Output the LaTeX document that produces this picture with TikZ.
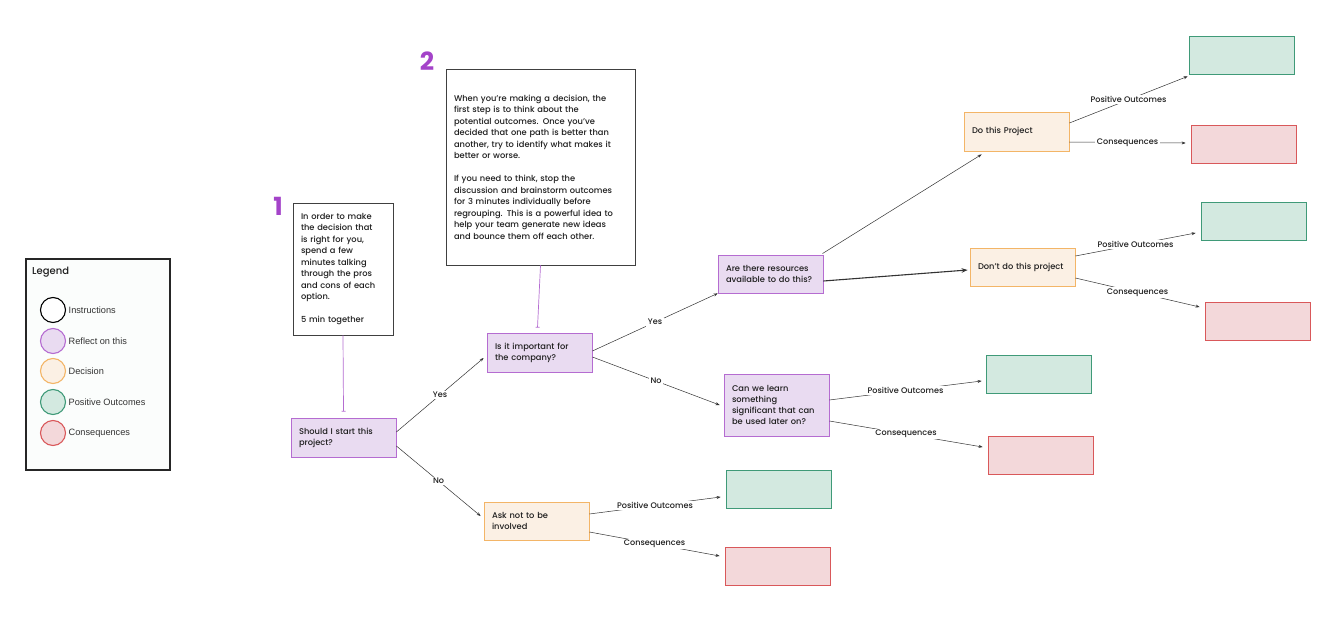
\documentclass[tikz,border=0pt]{standalone}
\usepackage{fontspec}
\setmainfont{Poppins}[BoldFont={Poppins Medium}]
\newfontfamily\legfont{Liberation Sans}
\newfontfamily\numfont{Poppins}
\usetikzlibrary{arrows.meta,calc}
\definecolor{purpB}{HTML}{B56CD1}
\definecolor{purpF}{HTML}{E9DBF1}
\definecolor{orB}{HTML}{F3B567}
\definecolor{orF}{HTML}{FBF0E4}
\definecolor{grB}{HTML}{3F9A78}
\definecolor{grF}{HTML}{D3E9E0}
\definecolor{rdB}{HTML}{D9585A}
\definecolor{rdF}{HTML}{F3D8DA}
\definecolor{numP}{HTML}{A443C9}
\definecolor{lineG}{HTML}{333333}
\definecolor{legF}{HTML}{FBFDFC}
\definecolor{txt}{HTML}{1E1E1E}
\tikzset{
  box/.style={draw, line width=0.8pt, minimum width=105pt, minimum height=38pt,
    inner xsep=8pt, text width=89pt, align=left, text=txt, font=\bfseries\fontsize{8.3}{11.2}\selectfont},
  refl/.style={box, draw=purpB, fill=purpF},
  decis/.style={box, draw=orB, fill=orF},
  posbox/.style={draw=grB, fill=grF, line width=0.8pt, minimum width=105pt, minimum height=38pt},
  negbox/.style={draw=rdB, fill=rdF, line width=0.8pt, minimum width=105pt, minimum height=38pt},
  instr/.style={draw=black!75, fill=white, line width=0.8pt, inner xsep=8pt, align=left, text=txt,
    font=\bfseries\fontsize{8.3}{11.5}\selectfont},
  arr/.style={draw=lineG, line width=0.5pt, -{Stealth[length=4pt,width=3pt]}},
  elab/.style={fill=white, inner sep=1.5pt, text=txt, font=\bfseries\fontsize{8.1}{9}\selectfont},
  link/.style={draw=purpB, line width=0.7pt, -{Bar[width=4pt]}},
  legc/.style={circle, line width=1.1pt, minimum size=25pt, inner sep=0pt},
  legl/.style={anchor=west, inner sep=0pt, text=black!80, font=\legfont\fontsize{9.2}{10}\selectfont},
  bignum/.style={text=numP, font=\numfont\bfseries\fontsize{25}{25}\selectfont, inner sep=0pt}
}
\begin{document}
\begin{tikzpicture}[x=1pt,y=-1pt]
\useasboundingbox (0,0) rectangle (1341,623);
\fill[white] (0,0) rectangle (1341,623);

% Legend
\node[draw=black!85, fill=legF, line width=1.2pt, minimum width=144pt, minimum height=211pt, inner sep=0pt] (leg) at (98,364.5) {};
\node[anchor=west, inner sep=0pt, text=txt, font=\bfseries\fontsize{10}{11}\selectfont] (legt) at (32,272) {Legend};
\node[legc, draw=black, fill=white] (c1) at (53,310) {};
\node[legc, draw=purpB, fill=purpF] (c2) at (53,341) {};
\node[legc, draw=orB, fill=orF] (c3) at (53,371) {};
\node[legc, draw=grB, fill=grF] (c4) at (53,402) {};
\node[legc, draw=rdB, fill=rdF] (c5) at (53,433) {};
\node[legl] (l1) at (68.5,310) {Instructions};
\node[legl] (l2) at (68.5,341) {Reflect on this};
\node[legl] (l3) at (68.5,371) {Decision};
\node[legl] (l4) at (68.5,402) {Positive Outcomes};
\node[legl] (l5) at (68.5,433) {Consequences};

% Numbers
\node[bignum] (n1) at (278,206) {1};
\node[bignum] (n2) at (427,61) {2};

% Instructions
\node[instr, minimum width=100pt, minimum height=132pt, text width=84pt] (i1) at (343,269)
 {In order to make\\the decision that\\is right for you,\\spend a few\\minutes talking\\through the pros\\and cons of each\\option.\\[11.5pt]5 min together};
\node[instr, minimum width=189pt, minimum height=196pt, text width=173pt] (i2) at (540.5,167)
 {When you're making a decision, the\\first step is to think about the\\potential outcomes. Once you've\\decided that one path is better than\\another, try to identify what makes it\\better or worse.\\[11.5pt]If you need to think, stop the\\discussion and brainstorm outcomes\\for 3 minutes individually before\\regrouping. This is a powerful idea to\\help your team generate new ideas\\and bounce them off each other.};

% Questions
\node[refl, minimum height=39pt] (q1) at (343.5,437.5) {Should I start this\\project?};
\node[refl, minimum height=39pt] (q2) at (539.5,352.5) {Is it important for\\the company?};
\node[refl] (q3) at (770.5,274) {Are there resources\\available to do this?};
\node[refl, minimum height=62pt] (q4) at (776.5,405) {Can we learn\\something\\significant that can\\be used later on?};

% Decisions
\node[decis] (d1) at (536.5,521) {Ask not to be\\involved};
\node[decis, minimum height=39pt] (d2) at (1016.5,131.5) {Do this Project};
\node[decis] (d3) at (1022.5,267) {Don't do this project};

% Outcomes
\node[posbox] (g1) at (1241.5,55) {};
\node[negbox] (r1) at (1243.5,144) {};
\node[posbox] (g2) at (1253.5,221) {};
\node[negbox] (r2) at (1257.5,321) {};
\node[posbox] (g3) at (1038.5,374.5) {};
\node[negbox] (r3) at (1040.5,455.5) {};
\node[posbox] (g4) at (778.5,489) {};
\node[negbox] (r4) at (777.5,566.5) {};

% Purple links
\draw[link] (i1.south) -- ($(q1.north)+(0,-6)$);
\draw[link] (i2.south) -- ($(q2.north)+(-2,-5)$);

% Connectors
\draw[arr] ($(q1.east)+(0,-5.5)$) -- node[elab]{Yes} ($(q2.west)+(-3,5.5)$);
\draw[arr] ($(q1.east)+(0,8.5)$) -- node[elab]{No} ($(d1.west)+(-3,-5)$);
\draw[arr] ($(q2.east)+(0,-1.5)$) -- node[elab]{Yes} (q3.south west);
\draw[arr] ($(q2.east)+(0,4.5)$) -- node[elab]{No} ($(q4.west)+(-4,0)$);
\draw[arr] ($(q3.north east)+(-1,-1)$) -- ($(d2.south west)+(18,3)$);
\draw[arr, line width=1.1pt, -{Stealth[length=6pt,width=4.5pt]}] ($(q3.east)+(0,7)$) -- ($(d3.west)+(-2,3)$);

\draw[arr] ($(d2.east)+(0,-8.5)$) -- node[elab]{Positive Outcomes} ($(g1.south west)+(-1,2)$);
\draw[arr] ($(d2.east)+(0,10.5)$) -- node[elab]{Consequences} ($(r1.west)+(-5,-1)$);
\draw[arr] ($(d3.east)+(0,-11)$) -- node[elab]{Positive Outcomes} ($(g2.west)+(-5,12)$);
\draw[arr] ($(d3.east)+(0,11)$) -- node[elab]{Consequences} ($(r2.west)+(-5,-14)$);
\draw[arr] ($(q4.east)+(0,-5)$) -- node[elab]{Positive Outcomes} ($(g3.west)+(-4,6.5)$);
\draw[arr] ($(q4.east)+(0,16)$) -- node[elab]{Consequences} ($(r3.west)+(-5,-8.5)$);
\draw[arr] ($(d1.east)+(0,-7)$) -- node[elab]{Positive Outcomes} ($(g4.west)+(-5,8)$);
\draw[arr] ($(d1.east)+(0,11)$) -- node[elab]{Consequences} ($(r4.west)+(-5,-10.5)$);
\end{tikzpicture}
\end{document}
